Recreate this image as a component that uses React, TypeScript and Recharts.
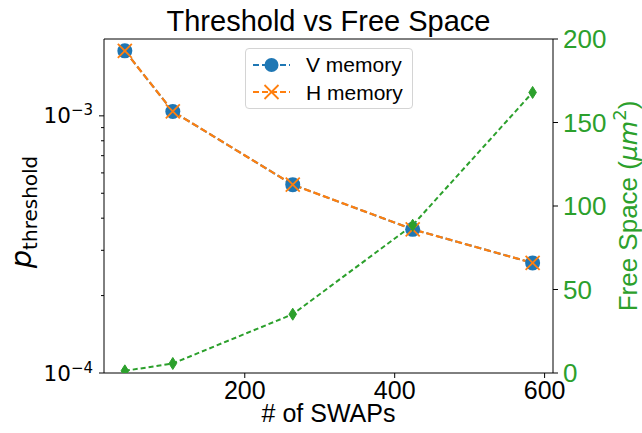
import { ComposedChart, Legend, Line, ReferenceLine, XAxis, YAxis } from "recharts";

const SWAPS = [40, 104, 264, 424, 584];
const V_MEMORY = [1.79e-3, 1.04e-3, 5.4e-4, 3.62e-4, 2.68e-4];
const H_MEMORY = [1.79e-3, 1.04e-3, 5.4e-4, 3.62e-4, 2.68e-4];
const FREE_SPACE = [1.3, 5.7, 35.2, 88.5, 168];

const X_TICKS = [200, 400, 600];
const X_DOMAIN = [12.2, 611.2];
const P_TICKS = [1e-4, 2e-4, 3e-4, 4e-4, 5e-4, 6e-4, 7e-4, 8e-4, 9e-4, 1e-3];
const P_DOMAIN = [1e-4, 1.99e-3];
const FREE_TICKS = [0, 50, 100, 150, 200];
const FREE_DOMAIN = [0, 200];

const TITLE = "Threshold vs Free Space";
const X_LABEL = "# of SWAPs";
const V_NAME = "V memory";
const H_NAME = "H memory";
const LEGEND_NAMES = [V_NAME, H_NAME];

const BLUE = "#1f77b4";
const ORANGE = "#ff7f0e";
const GREEN = "#2ca02c";
const ARIAL = "'Liberation Sans', Arial, sans-serif";
const DEJAVU = "'DejaVu Sans', sans-serif";

const data = SWAPS.map((x, i) => ({
    x,
    v: V_MEMORY[i],
    h: H_MEMORY[i],
    free: FREE_SPACE[i],
}));

function circleDot(p: any) {
    if (p.cx == null || p.cy == null) return <g key={`v-${p.index}`} />;
    return <circle key={`v-${p.index}`} cx={p.cx} cy={p.cy} r={7.5} fill={BLUE} />;
}

function crossDot(p: any) {
    if (p.cx == null || p.cy == null) return <g key={`h-${p.index}`} />;
    const s = 7;
    return (
        <g key={`h-${p.index}`} stroke={ORANGE} strokeWidth={1.8}>
            <line x1={p.cx - s} y1={p.cy - s} x2={p.cx + s} y2={p.cy + s} />
            <line x1={p.cx - s} y1={p.cy + s} x2={p.cx + s} y2={p.cy - s} />
        </g>
    );
}

function diamondDot(p: any) {
    if (p.cx == null || p.cy == null) return <g key={`f-${p.index}`} />;
    const { cx, cy } = p;
    return (
        <polygon
            key={`f-${p.index}`}
            points={`${cx},${cy - 6} ${cx + 3.8},${cy} ${cx},${cy + 6} ${cx - 3.8},${cy}`}
            fill={GREEN}
            stroke={GREEN}
            strokeWidth={1}
        />
    );
}

function LogTick(props: any) {
    const { x, y, payload } = props;
    const e = Math.log10(payload.value);
    const major = Math.abs(e - Math.round(e)) < 1e-6;
    return (
        <g>
            <line x1={x} x2={x - (major ? 5 : 3)} y1={y} y2={y} stroke="#000" strokeWidth={1} />
            {major && (
                <text x={x - 11} y={y + 7.5} textAnchor="end" fontFamily={DEJAVU} fontSize={21.5} fill="#000">
                    10
                    <tspan dy={-8} fontSize={15}>
                        {"\u2212" + Math.abs(Math.round(e))}
                    </tspan>
                </text>
            )}
        </g>
    );
}

function LegendBox(props: any) {
    const all = (props.payload ?? []) as any[];
    const items = LEGEND_NAMES.map((n) => all.find((it) => it.value === n)).filter(Boolean);
    return (
        <div
            style={{
                border: "1px solid #d4d4d4",
                borderRadius: 4,
                background: "rgba(255,255,255,0.8)",
                padding: "2px 9px 2px 7px",
                fontFamily: ARIAL,
                fontSize: 21,
                color: "#000",
                lineHeight: "27px",
            }}
        >
            {items.map((it) => (
                <div key={it.value} style={{ display: "flex", alignItems: "center", height: 27.5 }}>
                    <svg width={37} height={20} style={{ display: "block" }}>
                        <line
                            x1={0}
                            x2={37}
                            y1={10}
                            y2={10}
                            stroke={it.color}
                            strokeWidth={2}
                            strokeDasharray="6 3"
                        />
                        {it.value === V_NAME ? (
                            <circle cx={18.5} cy={10} r={7} fill={BLUE} />
                        ) : (
                            <g stroke={ORANGE} strokeWidth={1.8}>
                                <line x1={11.5} y1={3} x2={25.5} y2={17} />
                                <line x1={11.5} y1={17} x2={25.5} y2={3} />
                            </g>
                        )}
                    </svg>
                    <span style={{ marginLeft: 16 }}>{it.value}</span>
                </div>
            ))}
        </div>
    );
}

function TitleLabel(props: any) {
    const vb = props.viewBox ?? { x: 104, y: 39, width: 449 };
    return (
        <text x={vb.x + vb.width / 2} y={vb.y - 8} textAnchor="middle" fontFamily={ARIAL} fontSize={29} fill="#000">
            {TITLE}
        </text>
    );
}

function XLabel(props: any) {
    const vb = props.viewBox ?? { x: 104, y: 373, width: 449 };
    return (
        <text x={vb.x + vb.width / 2} y={vb.y + 49} textAnchor="middle" fontFamily={ARIAL} fontSize={25} fill="#000">
            {X_LABEL}
        </text>
    );
}

function LeftLabel(props: any) {
    const vb = props.viewBox ?? { x: 0, y: 39, width: 104, height: 334 };
    const cx = 31;
    const cy = vb.y + vb.height / 2 + 6;
    return (
        <text
            x={cx}
            y={cy}
            transform={`rotate(-90 ${cx} ${cy})`}
            textAnchor="middle"
            fontFamily={DEJAVU}
            fill="#000"
        >
            <tspan fontSize={29} fontStyle="italic">p</tspan>
            <tspan fontSize={20} dy={6}>threshold</tspan>
        </text>
    );
}

function RightLabel(props: any) {
    const vb = props.viewBox ?? { x: 553, y: 39, width: 89, height: 334 };
    const cx = 637;
    const cy = vb.y + vb.height / 2;
    return (
        <text
            x={cx}
            y={cy}
            transform={`rotate(-90 ${cx} ${cy})`}
            textAnchor="middle"
            fontFamily={ARIAL}
            fontSize={26}
            fill={GREEN}
        >
            Free Space (
            <tspan fontFamily={DEJAVU} fontStyle="italic" fontSize={25}>
                {"\u03bcm"}
            </tspan>
            <tspan fontFamily={DEJAVU} fontSize={18} dy={-11}>
                2
            </tspan>
            <tspan dy={11}>)</tspan>
        </text>
    );
}

export default function App() {
    return (
        <div style={{ position: "absolute", left: 0, top: 0, width: 642, height: 433, background: "#fff" }}>
            <ComposedChart width={642} height={433} data={data} margin={{ top: 39, right: 0, bottom: 0, left: 0 }}>
                <XAxis
                    dataKey="x"
                    type="number"
                    domain={X_DOMAIN}
                    ticks={X_TICKS}
                    allowDataOverflow
                    interval={0}
                    height={60}
                    stroke="#000"
                    tickSize={5}
                    tickMargin={3}
                    tick={{ fill: "#000", fontSize: 25, fontFamily: ARIAL }}
                    label={<XLabel />}
                />
                <YAxis
                    yAxisId="left"
                    orientation="left"
                    scale="log"
                    type="number"
                    domain={P_DOMAIN}
                    ticks={P_TICKS}
                    allowDataOverflow
                    interval={0}
                    width={104}
                    stroke="#000"
                    tickSize={0}
                    tickMargin={0}
                    tickLine={false}
                    tick={<LogTick />}
                    label={<LeftLabel />}
                />
                <YAxis
                    yAxisId="right"
                    orientation="right"
                    type="number"
                    domain={FREE_DOMAIN}
                    ticks={FREE_TICKS}
                    allowDataOverflow
                    interval={0}
                    width={89}
                    stroke="#000"
                    tickSize={5}
                    tickMargin={5}
                    tick={{ fill: GREEN, fontSize: 26, fontFamily: ARIAL }}
                    label={<RightLabel />}
                />
                <ReferenceLine
                    yAxisId="right"
                    y={FREE_DOMAIN[1]}
                    stroke="#000"
                    strokeWidth={1}
                    ifOverflow="visible"
                    label={<TitleLabel />}
                />
                <Legend
                    layout="horizontal"
                    verticalAlign="middle"
                    align="center"
                    wrapperStyle={{ left: 245, top: 48, width: "auto", height: "auto" }}
                    content={<LegendBox />}
                />
                <Line
                    yAxisId="left"
                    dataKey="v"
                    name={V_NAME}
                    stroke={BLUE}
                    strokeWidth={2}
                    strokeDasharray="7 3"
                    dot={circleDot}
                    activeDot={false}
                    isAnimationActive={false}
                />
                <Line
                    yAxisId="left"
                    dataKey="h"
                    name={H_NAME}
                    stroke={ORANGE}
                    strokeWidth={2.2}
                    strokeDasharray="7 3"
                    dot={crossDot}
                    activeDot={false}
                    isAnimationActive={false}
                />
                <Line
                    yAxisId="right"
                    dataKey="free"
                    name="Free Space"
                    legendType="none"
                    stroke={GREEN}
                    strokeWidth={2}
                    strokeDasharray="5 3"
                    dot={diamondDot}
                    activeDot={false}
                    isAnimationActive={false}
                />
            </ComposedChart>
        </div>
    );
}
